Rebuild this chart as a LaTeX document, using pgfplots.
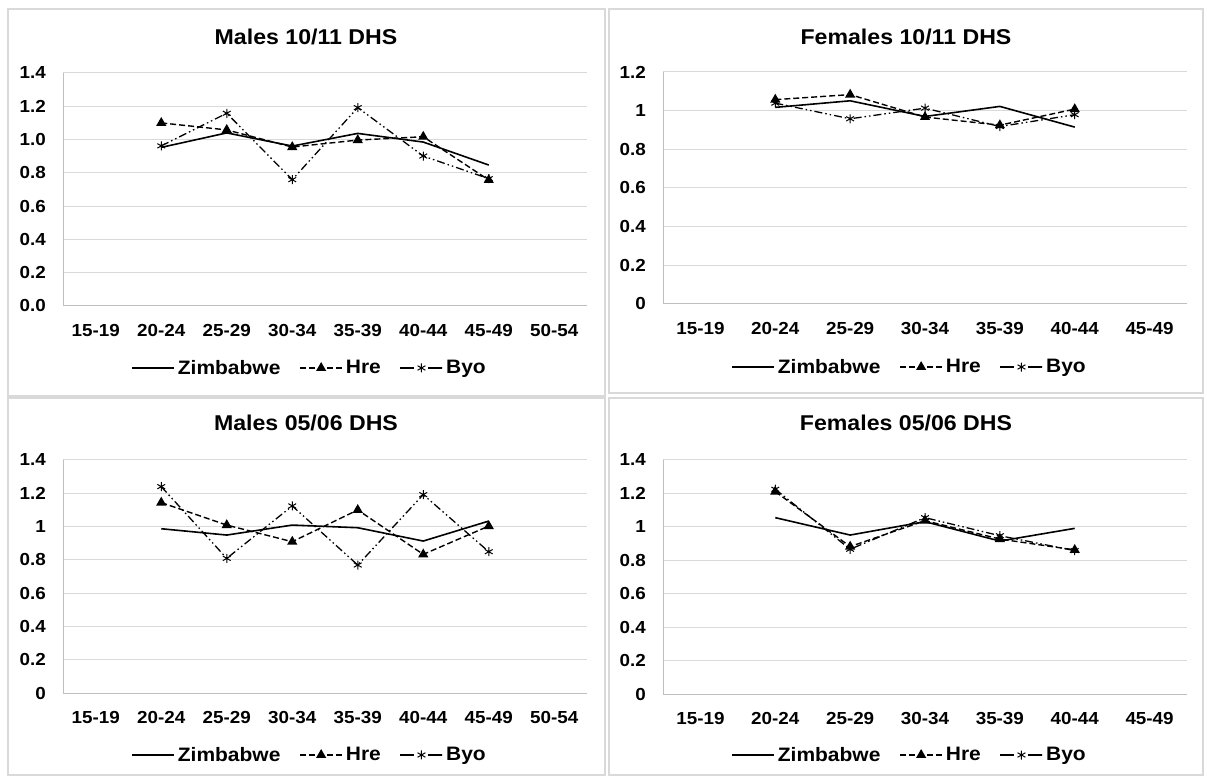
\documentclass[border=0pt]{standalone}
\usepackage{fontspec}
\setmainfont{Liberation Sans}[FakeStretch=1.08]
\usepackage{pgfplots}
\pgfplotsset{compat=1.18}
\definecolor{gridc}{HTML}{D9D9D9}
\definecolor{axc}{HTML}{BFBFBF}
\definecolor{framec}{HTML}{D9D9D9}
\pgfplotsset{
  panel/.style={
    scale only axis, width=524bp, anchor=south west,
    axis x line*=bottom, axis y line*=left,
    axis line style={draw=axc, line width=1bp, -},
    ymajorgrids, grid style={draw=gridc, line width=1bp},
    major tick length=0pt,
    tick label style={font=\fontsize{17.5}{20}\selectfont\bfseries},
    /pgf/number format/assume math mode=true,
    yticklabel style={inner sep=0pt, anchor=east, xshift=-17bp},
    xticklabel style={inner sep=0pt, anchor=north, yshift=-18bp},
    ymin=0,
    legend columns=3,
    legend cell align=left,
    legend style={draw=none, fill=none, anchor=center,
      font=\fontsize{19.5}{22}\selectfont\bfseries,
      nodes={inner xsep=3bp},
      /tikz/every even column/.append style={column sep=16bp}},
    legend image code/.code={\draw[mark repeat=2,mark phase=2,##1] plot coordinates {(0bp,0bp) (21bp,0bp) (42bp,0bp)};},
  },
  eight/.style={xmin=-0.5, xmax=7.5, xtick={0,...,7},
    xticklabels={15-19,20-24,25-29,30-34,35-39,40-44,45-49,50-54}},
  seven/.style={xmin=-0.5, xmax=6.5, xtick={0,...,6},
    xticklabels={15-19,20-24,25-29,30-34,35-39,40-44,45-49}},
  zim/.style={black, line width=1.6bp, no marks},
  hre/.style={black, line width=1.4bp, dash pattern=on 6bp off 3bp, mark=triangle*, mark size=4.5bp, mark options={solid}},
  byo/.style={black, line width=1.3bp, dash pattern=on 8bp off 3bp on 1.5bp off 3bp on 1.5bp off 3bp, mark=asterisk, mark size=4.5bp, mark options={solid, line width=1bp},
    legend image post style={dash pattern=on 14bp off 14bp on 14bp off 0bp}},
}
\begin{document}
\begin{tikzpicture}
\path[use as bounding box] (0bp,0bp) rectangle (1207bp,776bp);
% panel frames
\draw[framec, line width=1.5bp] (8bp,380bp) rectangle (605bp,767bp);
\draw[framec, line width=1.5bp] (609bp,383bp) rectangle (1203bp,767bp);
\draw[framec, line width=1.5bp] (8bp,1bp) rectangle (605bp,378bp);
\draw[framec, line width=1.5bp] (609bp,1bp) rectangle (1203bp,378bp);
% titles
\node[font=\fontsize{21.5}{24}\selectfont\bfseries] at (306bp,739bp) {Males 10/11 DHS};
\node[font=\fontsize{21.5}{24}\selectfont\bfseries] at (906bp,739bp) {Females 10/11 DHS};
\node[font=\fontsize{21.5}{24}\selectfont\bfseries] at (306bp,353bp) {Males 05/06 DHS};
\node[font=\fontsize{21.5}{24}\selectfont\bfseries] at (906bp,353bp) {Females 05/06 DHS};

% Males 10/11
\begin{axis}[panel, eight, at={(63bp,470bp)}, height=233bp, ymax=1.4,
  ytick={0,0.2,0.4,0.6,0.8,1.0,1.2,1.4},
  yticklabels={0.0,0.2,0.4,0.6,0.8,1.0,1.2,1.4},
  legend style={at={(0.4714,-0.266)}}]
\addplot[zim] coordinates {(1,0.953) (2,1.040) (3,0.961) (4,1.037) (5,0.985) (6,0.847)};
\addplot[hre] coordinates {(1,1.100) (2,1.058) (3,0.955) (4,0.997) (5,1.017) (6,0.757)};
\addplot[byo] coordinates {(1,0.962) (2,1.158) (3,0.759) (4,1.192) (5,0.901) (6,0.765)};
\legend{Zimbabwe,Hre,Byo}
\end{axis}

% Females 10/11
\begin{axis}[panel, seven, at={(663bp,472bp)}, height=232bp, ymax=1.2,
  ytick={0,0.2,0.4,0.6,0.8,1,1.2},
  yticklabels={0,0.2,0.4,0.6,0.8,1,1.2},
  legend style={at={(0.4714,-0.2716)}}]
\addplot[zim] coordinates {(1,1.017) (2,1.051) (3,0.970) (4,1.022) (5,0.915)};
\addplot[hre] coordinates {(1,1.057) (2,1.083) (3,0.967) (4,0.925) (5,1.008)};
\addplot[byo] coordinates {(1,1.039) (2,0.958) (3,1.013) (4,0.918) (5,0.979)};
\legend{Zimbabwe,Hre,Byo}
\end{axis}

% Males 05/06
\begin{axis}[panel, eight, at={(63bp,83bp)}, height=233bp, ymax=1.4,
  ytick={0,0.2,0.4,0.6,0.8,1,1.2,1.4},
  yticklabels={0,0.2,0.4,0.6,0.8,1,1.2,1.4},
  legend style={at={(0.4714,-0.266)}}]
\addplot[zim] coordinates {(1,0.987) (2,0.949) (3,1.009) (4,0.993) (5,0.913) (6,1.033)};
\addplot[hre] coordinates {(1,1.144) (2,1.009) (3,0.909) (4,1.100) (5,0.833) (6,1.003)};
\addplot[byo] coordinates {(1,1.240) (2,0.809) (3,1.124) (4,0.769) (5,1.192) (6,0.849)};
\legend{Zimbabwe,Hre,Byo}
\end{axis}

% Females 05/06
\begin{axis}[panel, seven, at={(663bp,82bp)}, height=234bp, ymax=1.4,
  ytick={0,0.2,0.4,0.6,0.8,1,1.2,1.4},
  yticklabels={0,0.2,0.4,0.6,0.8,1,1.2,1.4},
  legend style={at={(0.4714,-0.2607)}}]
\addplot[zim] coordinates {(1,1.055) (2,0.951) (3,1.031) (4,0.915) (5,0.991)};
\addplot[hre] coordinates {(1,1.211) (2,0.882) (3,1.037) (4,0.927) (5,0.862)};
\addplot[byo] coordinates {(1,1.225) (2,0.866) (3,1.055) (4,0.947) (5,0.858)};
\legend{Zimbabwe,Hre,Byo}
\end{axis}
\end{tikzpicture}
\end{document}
